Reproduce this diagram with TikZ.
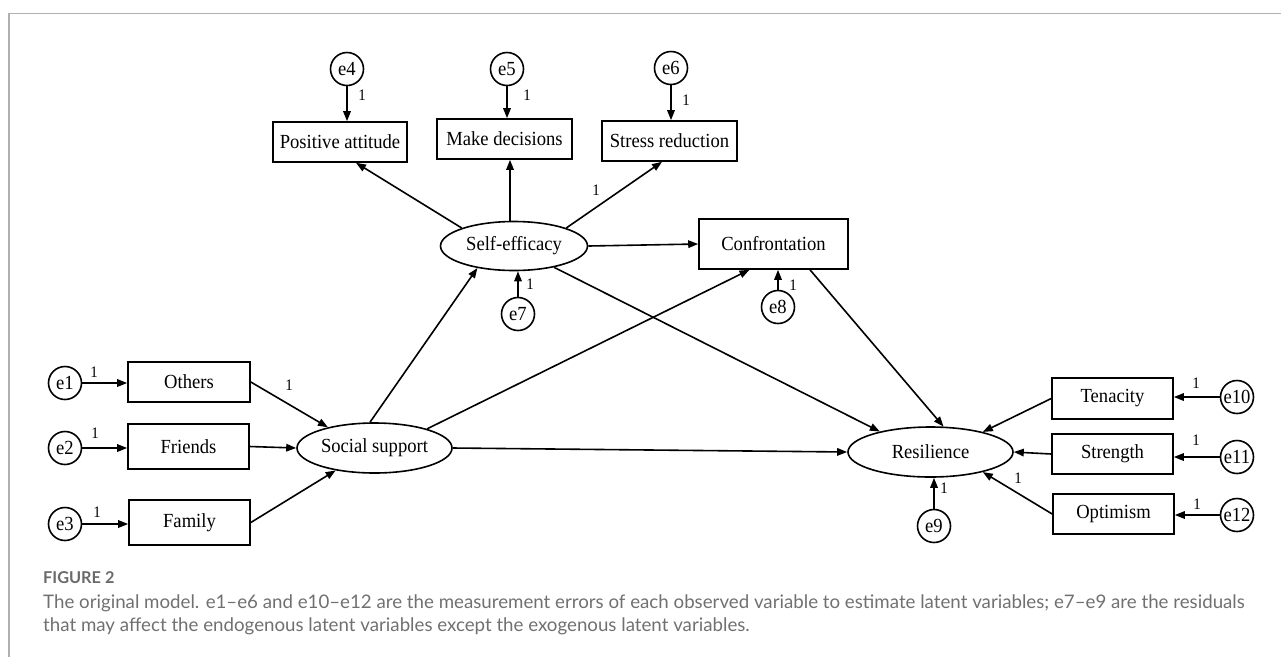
\documentclass[tikz,border=0pt]{standalone}
\usepackage{fontspec}
\setmainfont{Liberation Serif}[FakeStretch=0.93]
\newfontfamily\capfont{Lato}
\usetikzlibrary{shapes.geometric,arrows.meta}
\definecolor{capgray}{HTML}{707070}
\definecolor{figgray}{HTML}{6A6A6A}
\definecolor{framegray}{HTML}{B0B0B0}
\begin{document}
\begin{tikzpicture}[x=1pt,y=-1pt,
  obs/.style={draw,rectangle,line width=1.6pt,inner sep=0pt,font=\fontsize{20}{24}\selectfont},
  lat/.style={draw,ellipse,line width=1.6pt,inner sep=0pt,font=\fontsize{20}{24}\selectfont},
  err/.style={draw,circle,line width=1.6pt,inner sep=0pt,minimum size=33pt,font=\fontsize{20}{24}\selectfont},
  arr/.style={-{Triangle[length=10pt,width=7.5pt]},line width=1.6pt},
  one/.style={inner sep=0pt,font=\fontsize{16}{19}\selectfont},
  frameline/.style={draw=framegray,line width=1.2pt},
  captext/.style={anchor=base west,inner sep=0pt,text=capgray,font=\capfont\fontsize{18.7}{22}\selectfont}
]
\useasboundingbox (0,0) rectangle (1281,657);
% frame
\coordinate (ftl) at (9,13.5);
\coordinate (ftr) at (1281,13.5);
\coordinate (fbl) at (9,657);
\draw[frameline] (ftr) -- (ftl) -- (fbl);

% top indicators
\node[obs,minimum width=134pt,minimum height=40pt] (pa) at (340,142) {Positive attitude};
\node[obs,minimum width=135pt,minimum height=40pt] (md) at (504.5,139) {Make decisions};
\node[obs,minimum width=135pt,minimum height=40pt] (sr) at (669.5,141) {Stress reduction};
\node[err] (e4) at (347,69) {e4};
\node[err] (e5) at (507,69) {e5};
\node[err] (e6) at (671,68) {e6};

% self-efficacy & confrontation
\node[lat,minimum width=147pt,minimum height=49pt] (se) at (514,246) {\makebox[0pt]{Self-efficacy}};
\node[err] (e7) at (518,314) {e7};
\node[obs,minimum width=149pt,minimum height=50pt] (cf) at (773.5,244) {Confrontation};
\node[err] (e8) at (778,307) {e8};

% left indicators
\node[obs,minimum width=122pt,minimum height=40pt] (ot) at (189,382) {Others};
\node[obs,minimum width=121pt,minimum height=45pt] (fr) at (188.5,446.5) {Friends};
\node[obs,minimum width=121pt,minimum height=45pt] (fa) at (189.5,522.5) {Family};
\node[err] (e1) at (65,383) {e1};
\node[err] (e2) at (65,448) {e2};
\node[err] (e3) at (65,524) {e3};
\node[lat,minimum width=155pt,minimum height=50pt] (ss) at (374.5,448) {\makebox[0pt]{Social support}};

% resilience
\node[lat,minimum width=165pt,minimum height=50pt] (rs) at (930.5,452) {\makebox[0pt]{Resilience}};
\node[err] (e9) at (934,526) {e9};
\node[obs,minimum width=121pt,minimum height=41pt] (te) at (1112.5,398.5) {Tenacity};
\node[obs,minimum width=121pt,minimum height=40pt] (st) at (1112.5,454) {Strength};
\node[obs,minimum width=121pt,minimum height=40pt] (op) at (1113.5,514) {Optimism};
\node[err] (e10) at (1237,397) {\makebox[0pt]{e10}};
\node[err] (e11) at (1237,457) {\makebox[0pt]{e11}};
\node[err] (e12) at (1237,515) {\makebox[0pt]{e12}};

% connectors
\draw[arr] (e1) -- (e1 -| ot.west);
\draw[arr] (e2) -- (e2 -| fr.west);
\draw[arr] (e3) -- (e3 -| fa.west);
\draw[arr] (ot.east) -- (ss.156);
\draw[arr] (fr.east) -- (ss.west);
\draw[arr] (fa.east) -- (ss.210);
\draw[arr] (ss.100) -- (se.211);
\draw[arr] (ss.20) -- (cf.227);
\draw[arr] (ss.east) -- (rs.west);
\draw[arr] (se.161) -- ([xshift=16pt]pa.south);
\coordinate (sen) at ([xshift=-4pt]se.north);
\draw[arr] (sen) -- (sen |- md.south);
\draw[arr] (se.19) -- ([xshift=-7.5pt]sr.south);
\draw[arr] (se.east) -- (cf.west);
\draw[arr] (se.-28) -- (rs.158);
\draw[arr] ([xshift=36.5pt]cf.south) -- (rs.63);
\draw[arr] (e4) -- (e4 |- pa.north);
\draw[arr] (e5) -- (e5 |- md.north);
\draw[arr] (e6) -- (e6 |- sr.north);
\draw[arr] (e7) -- (e7 |- se.south);
\draw[arr] (e8) -- (e8 |- cf.south);
\draw[arr] (e9) -- (e9 |- rs.south);
\draw[arr] (te.west) -- (rs.21);
\draw[arr] (st.west) -- (rs.east);
\draw[arr] (op.west) -- (rs.-21);
\draw[arr] (e10) -- (e10 -| te.east);
\draw[arr] (e11) -- (e11 -| st.east);
\draw[arr] (e12) -- (e12 -| op.east);

% "1" labels
\node[one] (l4) at (362,95) {1};
\node[one] (l5) at (527,95) {1};
\node[one] (l6) at (686,100) {1};
\node[one] (lsr) at (596,190) {1};
\node[one] (l7) at (530,284) {1};
\node[one] (l8) at (793,285) {1};
\node[one] (l9) at (944,488) {1};
\node[one] (l1) at (94,372) {1};
\node[one] (l2) at (95,433) {1};
\node[one] (l3) at (97,512) {1};
\node[one] (lot) at (289,385) {1};
\node[one] (l10) at (1196,383) {1};
\node[one] (l11) at (1196,440) {1};
\node[one] (l12) at (1197,504) {1};
\node[one] (lop) at (1018,478) {1};

% caption
\node[anchor=base west,inner sep=0pt,text=figgray,font=\capfont\bfseries\fontsize{16.3}{19}\selectfont] (fig) at (43,583) {FIGURE 2};
\node[captext] (c1) at (43,608) {The original model. e1–e6 and e10–e12 are the measurement errors of each observed variable to estimate latent variables; e7–e9 are the residuals};
\node[captext] (c2) at (43,631) {that may affect the endogenous latent variables except the exogenous latent variables.};
\end{tikzpicture}
\end{document}
